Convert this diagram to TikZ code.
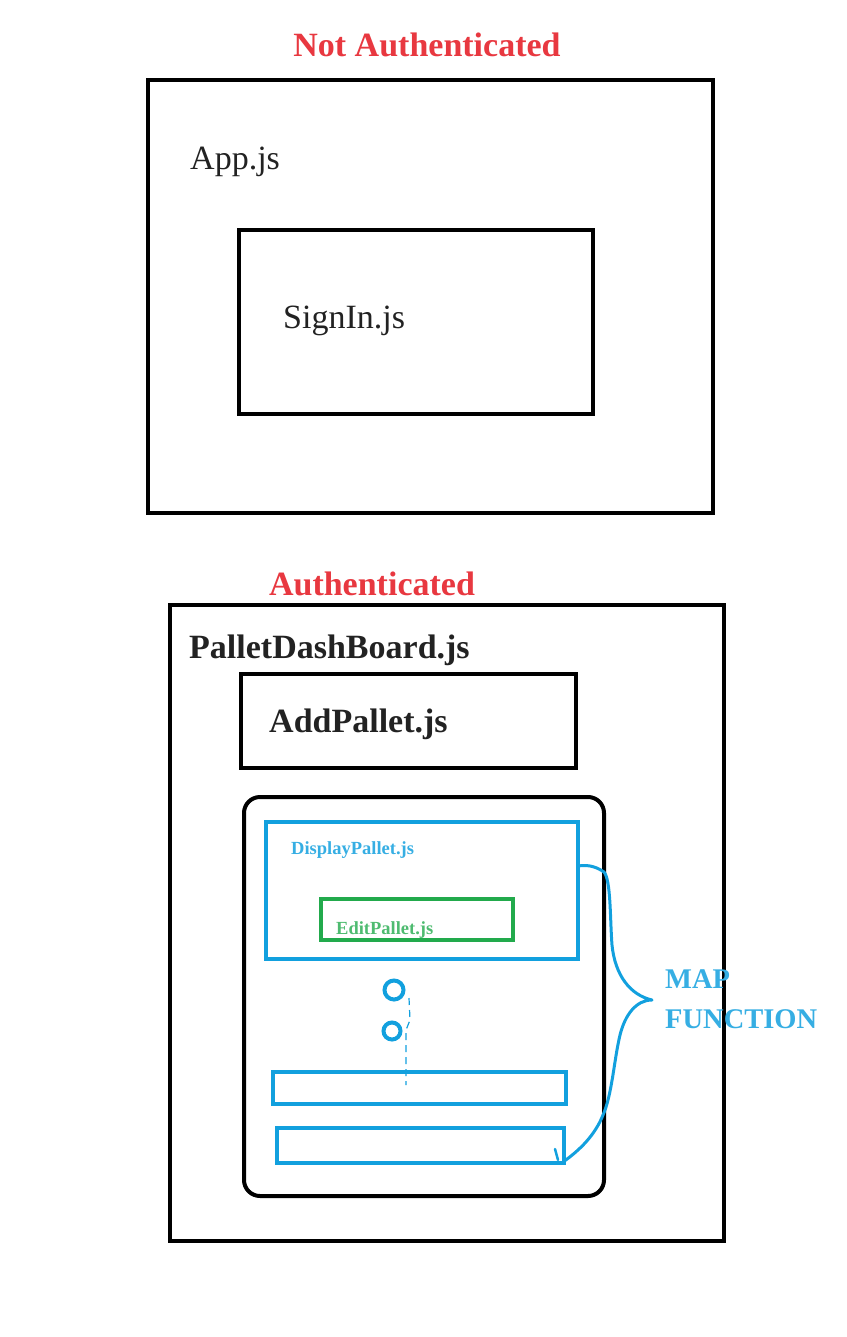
\documentclass[tikz,border=0pt]{standalone}
\usepackage{fontspec}
\setmainfont{Liberation Serif}
\definecolor{tred}{RGB}{232,56,64}
\definecolor{tblue}{RGB}{18,160,222}
\definecolor{tgreen}{RGB}{34,170,76}
\definecolor{tdark}{RGB}{34,34,34}
\begin{document}
\begin{tikzpicture}[x=1pt,y=-1pt,
  bbox/.style={draw=black,line width=4pt},
  bluebox/.style={draw=tblue,line width=4pt},
  greenbox/.style={draw=tgreen,line width=4pt},
  lbl/.style={anchor=base west,inner sep=0pt,text=tdark,font=\fontsize{34}{36}\selectfont},
  blbl/.style={lbl,font=\fontsize{34}{36}\selectfont\bfseries},
  slbl/.style={anchor=base west,inner sep=0pt,font=\fontsize{18.5}{20}\selectfont\bfseries},
  mlbl/.style={anchor=base west,inner sep=0pt,font=\fontsize{28.5}{30}\selectfont\bfseries,text=tblue!85}]
\useasboundingbox (0,0) rectangle (846,1337);
% Not authenticated
\node[anchor=base,inner sep=0pt,font=\fontsize{34}{36}\selectfont\bfseries,text=tred] (nat) at (427,57) {Not Authenticated};
\draw[bbox] (148,80) rectangle (713,513);
\node[lbl] (app) at (190,170) {App.js};
\draw[bbox] (239,230) rectangle (593,414);
\node[lbl] (signin) at (283,328) {SignIn.js};
% Authenticated
\node[anchor=base,inner sep=0pt,font=\fontsize{34}{36}\selectfont\bfseries,text=tred] (auth) at (372,595) {Authenticated};
\draw[bbox] (170,605) rectangle (724,1241);
\node[blbl] (dash) at (189,658) {PalletDashBoard.js};
\draw[bbox] (241,674) rectangle (576,768);
\node[blbl] (add) at (269,732) {AddPallet.js};
\draw[bbox,rounded corners=16pt] (244,797) rectangle (604,1196);
\draw[bluebox] (266,822) rectangle (578,959);
\node[slbl,text=tblue!85] (disp) at (291,854) {DisplayPallet.js};
\draw[greenbox] (321,899) rectangle (513,940);
\node[slbl,text=tgreen!80] (edit) at (336,934) {EditPallet.js};
\node[draw=tblue,line width=4pt,circle,minimum size=19pt,inner sep=0pt] (c1) at (394,990) {};
\node[draw=tblue,line width=4pt,circle,minimum size=17pt,inner sep=0pt] (c2) at (392,1031) {};
\draw[bluebox] (273,1072) rectangle (566,1104);
\draw[bluebox] (277,1128) rectangle (564,1163);
\draw[tblue,line width=1.2pt,dash pattern=on 7pt off 5pt] (409,998) -- (410,1020) -- (406,1030) -- (406,1085);
% brace
\coordinate (bs) at (578,866);
\coordinate (be) at (563,1162);
\draw[tblue,line width=3pt,line join=round,line cap=round]
  (bs) .. controls (590,864) and (598,868) .. (604,872)
  .. controls (611,880) and (610,920) .. (612,945)
  .. controls (615,975) and (630,995) .. (652,1000)
  .. controls (636,1000) and (625,1015) .. (620,1035)
  .. controls (614,1060) and (612,1095) .. (603,1115)
  .. controls (595,1135) and (580,1150) .. (be);
\draw[tblue,line width=2.5pt,line cap=round] (555,1149) -- (558,1160);
\node[mlbl] (map) at (665,988) {MAP};
\node[mlbl] (fn) at (665,1028) {FUNCTION};
\end{tikzpicture}
\end{document}
